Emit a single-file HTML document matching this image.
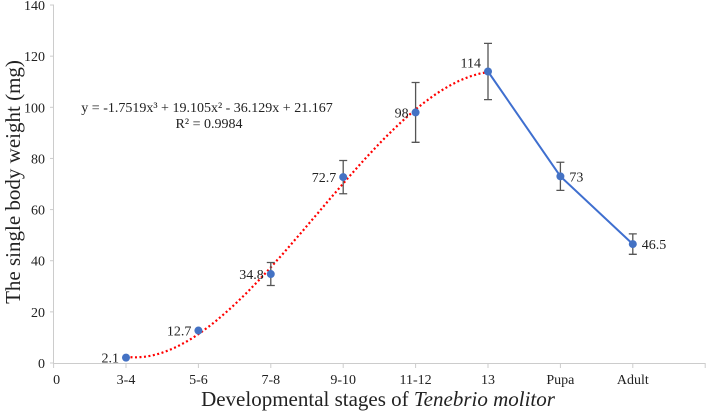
<!DOCTYPE html>
<html><head><meta charset="utf-8"><style>
body{margin:0;background:#fff}
svg text{font-family:"Liberation Serif",serif;fill:#222}
</style></head><body>
<svg id="chart" width="708" height="412" xmlns="http://www.w3.org/2000/svg"></svg>
<script>
const categories=["3-4","5-6","7-8","9-10","11-12","13","Pupa","Adult"];
const values=[2.1,12.7,34.8,72.7,98,114,73,46.5];
const labels=["2.1","12.7","34.8","72.7","98","114","73","46.5"];
const errors=[0,0,4.5,6.5,11.7,11,5.5,4];
const yTicks=[0,20,40,60,80,100,120,140];
const coeffs=[-1.7519,19.105,-36.129,21.167];
const NS="http://www.w3.org/2000/svg";
const svg=document.getElementById('chart');
const X=i=>53.6+72.4*i;
const Y=v=>363-v*2.557;
function el(t,a,p){const e=document.createElementNS(NS,t);for(const k in a)e.setAttribute(k,a[k]);(p||svg).appendChild(e);return e;}
let ax=el('line',{x1:53.5,y1:5,x2:53.5,y2:363,stroke:'#ccc','stroke-width':1});

let bx=el('line',{x1:53,y1:363.5,x2:705,y2:363.5,stroke:'#ccc','stroke-width':1});

yTicks.forEach(t=>{
 el('line',{x1:50,x2:54,y1:Y(t),y2:Y(t),stroke:'#ccc'});
 const tx=el('text',{x:45,y:Y(t)+5,'text-anchor':'end','font-size':14});tx.textContent=t;
 
});
for(let i=0;i<=9;i++)el('line',{x1:X(i),x2:X(i),y1:363,y2:368,stroke:'#ccc'});
let z=el('text',{x:X(0)+3,y:384,'text-anchor':'middle','font-size':14});z.textContent='0';

categories.forEach((c,i)=>{const t=el('text',{x:X(i+1),y:384,'text-anchor':'middle','font-size':14});t.textContent=c;
 });
let d='';for(let k=0;k<=100;k++){const x=1+5*k/100;const y=coeffs[0]*x*x*x+coeffs[1]*x*x+coeffs[2]*x+coeffs[3];d+=(k?'L':'M')+X(x).toFixed(1)+','+Y(y).toFixed(1);}
let tr=el('path',{d:d,fill:'none',stroke:'#f00','stroke-width':2.2,'stroke-dasharray':'2 2.5'});

let ld='';for(let i=5;i<8;i++)ld+=(i>5?'L':'M')+X(i+1)+','+Y(values[i]);
let bl=el('path',{d:ld,fill:'none',stroke:'#3f6fcf','stroke-width':2});

values.forEach((v,i)=>{
 const x=X(i+1);
 if(errors[i]>0){const g=el('path',{d:`M${x},${Y(v+errors[i])}V${Y(v-errors[i])}M${x-4},${Y(v+errors[i])}H${x+4}M${x-4},${Y(v-errors[i])}H${x+4}`,stroke:'#555','stroke-width':1.3,fill:'none'});
  }
 const c=el('circle',{cx:x,cy:Y(v),r:4,fill:'#4472c4'});
 
 const right=i>=6;
 const t=el('text',{x:right?x+9:x-7,y:Y(v)+(i==5?-4:5),'text-anchor':right?'start':'end','font-size':14});t.textContent=labels[i];
 
});
let eq=el('text',{x:207,y:112,'text-anchor':'middle','font-size':14});eq.textContent='y = -1.7519x³ + 19.105x² - 36.129x + 21.167';

let r2=el('text',{x:209,y:128,'text-anchor':'middle','font-size':14});r2.textContent='R² = 0.9984';

let yt=el('text',{x:0,y:0,'text-anchor':'middle','font-size':21,transform:'translate(20,182) rotate(-90)'});yt.textContent='The single body weight (mg)';

let xt=el('text',{x:378,y:406,'text-anchor':'middle','font-size':21});
xt.innerHTML='Developmental stages of  <tspan font-style="italic">Tenebrio molitor</tspan>';

</script>
</body></html>
